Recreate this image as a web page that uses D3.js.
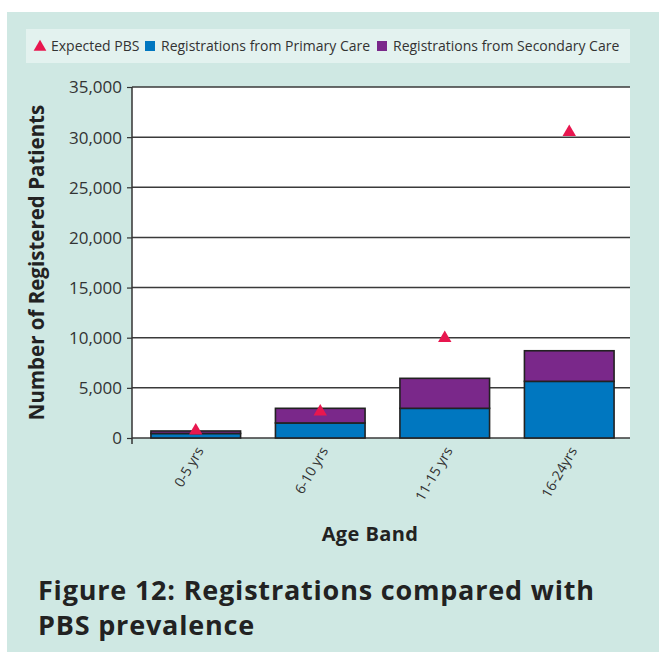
<!DOCTYPE html>
<meta charset="utf-8">
<style>
body {
  margin: 0;
  background: #fff;
  font-family: "Open Sans", "Noto Sans", sans-serif;
}
.tick text { fill: #333; }
</style>
<body>
<script src="https://d3js.org/d3.v7.min.js"></script>
<script>

var ageBands = ["0-5 yrs", "6-10 yrs", "11-15 yrs", "16-24yrs"];
var primaryCare = [450, 1500, 2960, 5650];
var secondaryCare = [250, 1460, 2990, 3050];
var expectedPBS = [730, 2620, 9950, 30500];
var yTicks = [0, 5000, 10000, 15000, 20000, 25000, 30000, 35000];

var seriesNames = ["Expected PBS", "Registrations from Primary Care", "Registrations from Secondary Care"];
var colors = {primary: "#0077c0", secondary: "#7a288a", expected: "#e8174f"};

var width = 659,
    height = 652,
    plot = {left: 132, right: 630, top: 87, bottom: 438};

var rows = ageBands.map(function(a, i) {
  return {band: a, primary: primaryCare[i], secondary: secondaryCare[i], expected: expectedPBS[i]};
});

var svg = d3.select("body").append("svg")
    .attr("width", width)
    .attr("height", height);

// teal panel
svg.append("rect")
    .attr("x", 7).attr("y", 12)
    .attr("width", width - 7).attr("height", height - 12)
    .attr("fill", "#cfe8e3");

var x = d3.scaleBand()
    .domain(ageBands)
    .range([plot.left + 1.5, plot.right + 1.5])
    .paddingInner(0.28)
    .paddingOuter(0.14);

var y = d3.scaleLinear()
    .domain([0, 35000])
    .range([plot.bottom, plot.top]);

svg.append("rect")
    .attr("x", plot.left).attr("y", plot.top)
    .attr("width", plot.right - plot.left).attr("height", plot.bottom - plot.top)
    .attr("fill", "#fff");

// gridlines
svg.append("g")
  .selectAll("line")
  .data(yTicks)
  .join("line")
    .attr("x1", plot.left).attr("x2", plot.right)
    .attr("y1", function(d) { return y(d); })
    .attr("y2", function(d) { return y(d); })
    .attr("stroke", "#3a3a3a")
    .attr("stroke-width", 1.5);

// stacked bars
var stack = d3.stack().keys(["primary", "secondary"]);
var layers = stack(rows);

svg.append("g")
  .selectAll("g")
  .data(layers)
  .join("g")
    .attr("fill", function(d) { return colors[d.key]; })
  .selectAll("rect")
  .data(function(d) { return d; })
  .join("rect")
    .attr("x", function(d) { return x(d.data.band); })
    .attr("y", function(d) { return y(d[1]); })
    .attr("width", x.bandwidth())
    .attr("height", function(d) { return y(d[0]) - y(d[1]); })
    .attr("stroke", "#222")
    .attr("stroke-width", 1.6);

// y axis
var yAxis = svg.append("g")
    .attr("transform", "translate(" + plot.left + ",0)")
    .call(d3.axisLeft(y).tickValues(yTicks).tickFormat(d3.format(",")).tickSize(5).tickPadding(5));
yAxis.select(".domain").remove();
yAxis.selectAll(".tick line").attr("stroke", "#333").attr("stroke-width", 1.2);
yAxis.selectAll(".tick text")
    .attr("font-size", 17)
    .attr("font-family", "Open Sans, sans-serif")
    .attr("dy", "0.35em");
yAxis.append("line")
    .attr("y1", plot.top).attr("y2", plot.bottom + 6)
    .attr("stroke", "#333").attr("stroke-width", 1.5);

// x labels
svg.append("g")
  .selectAll("text")
  .data(ageBands)
  .join("text")
    .attr("transform", function(d) {
      return "translate(" + (x(d) + x.bandwidth() / 2 + 4) + "," + (plot.bottom + 10) + ")rotate(-60)";
    })
    .attr("text-anchor", "end")
    .attr("dy", "0.35em")
    .attr("font-size", 14)
    .attr("fill", "#333")
    .text(function(d) { return d; });

// expected markers
var tri = d3.symbol().type(d3.symbolTriangle).size(78);
svg.append("g")
  .selectAll("path")
  .data(rows)
  .join("path")
    .attr("d", tri)
    .attr("transform", function(d) {
      return "translate(" + (x(d.band) + x.bandwidth() / 2) + "," + y(d.expected) + ")";
    })
    .attr("fill", colors.expected);

// legend
var legend = svg.append("g");
legend.append("rect")
    .attr("x", 26).attr("y", 29)
    .attr("width", 604).attr("height", 34)
    .attr("fill", "#e3f2ef");

var legendX = [40, 150, 382];
var legendKeys = ["expected", "primary", "secondary"];
var lg = legend.selectAll("g")
  .data(seriesNames)
  .join("g")
    .attr("transform", function(d, i) { return "translate(" + legendX[i] + ",46)"; });
lg.append("path")
    .attr("d", function(d, i) {
      return i === 0 ? d3.symbol().type(d3.symbolTriangle).size(70)() : "M-5,-5h10v10h-10z";
    })
    .attr("transform", function(d, i) { return i === 0 ? "translate(0,1)" : null; })
    .attr("fill", function(d, i) { return colors[legendKeys[i]]; });
lg.append("text")
    .attr("x", 11)
    .attr("dy", "0.35em")
    .attr("font-size", 14)
    .attr("fill", "#333")
    .text(function(d) { return d; });

// axis titles
svg.append("text")
    .attr("transform", "translate(44," + ((plot.top + plot.bottom) / 2) + ")rotate(-90)")
    .attr("text-anchor", "middle")
    .attr("font-size", 20.5)
    .attr("font-weight", "bold")
    .attr("fill", "#222")
    .text("Number of Registered Patients");

svg.append("text")
    .attr("x", 370).attr("y", 541)
    .attr("text-anchor", "middle")
    .attr("font-size", 20)
    .attr("letter-spacing", 0.4)
    .attr("font-weight", "bold")
    .attr("fill", "#222")
    .text("Age Band");

// figure caption
var caption = svg.append("text")
    .attr("font-size", 27)
    .attr("letter-spacing", 0.8)
    .attr("font-weight", "bold")
    .attr("fill", "#222");
caption.append("tspan").attr("x", 38).attr("y", 600).text("Figure 12: Registrations compared with");
caption.append("tspan").attr("x", 38).attr("y", 635).text("PBS prevalence");

</script>
